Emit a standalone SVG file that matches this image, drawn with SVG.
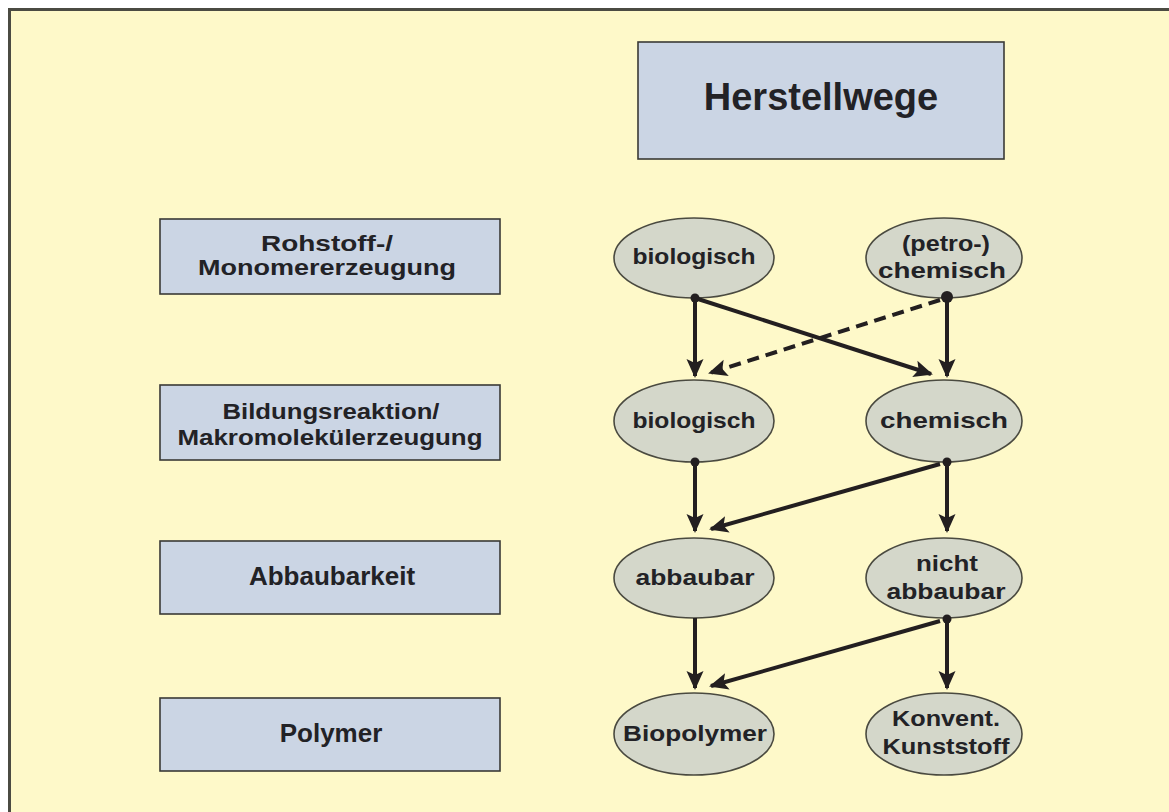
<svg xmlns="http://www.w3.org/2000/svg" width="1169" height="812" viewBox="0 0 1169 812">
<style>
.box{fill:#cbd5e4;stroke:#3a3a36;stroke-width:1.6}
.ell{fill:#d4d7ca;stroke:#4a4a40;stroke-width:1.6}
text{font-family:"Liberation Sans",Arial,sans-serif;font-weight:bold;fill:#222226;text-anchor:middle}
.lbl{font-size:22px}
.big{font-size:26px}
.en{font-size:22px}
.c{stroke:#231f20;stroke-width:4;fill:none}
.d{stroke-dasharray:12 7}
</style>
<defs>
<marker id="ah" markerUnits="userSpaceOnUse" markerWidth="19" markerHeight="19" viewBox="0 0 19 19" refX="17" refY="9.5" orient="auto">
<path d="M0,1 L19,9.5 L0,18 L4,9.5 Z" fill="#231f20"/>
</marker>
</defs>
<rect x="0" y="0" width="1169" height="812" fill="#ffffff"/>
<rect x="9.5" y="9.5" width="1170" height="820" fill="#fef9c9" stroke="#4b4b42" stroke-width="3"/>

<g id="title"><rect class="box" x="638" y="42" width="366" height="117"/><text x="821" y="110" style="font-size:38px">Herstellwege</text></g>

<g id="row-rohstoff"><rect class="box" x="160" y="219" width="340" height="75"/><text class="lbl" x="327" y="251" textLength="132" lengthAdjust="spacingAndGlyphs">Rohstoff-/</text><text class="lbl" x="327" y="275" textLength="258" lengthAdjust="spacingAndGlyphs">Monomererzeugung</text></g>
<g id="row-bildung"><rect class="box" x="160" y="385" width="340" height="75"/><text class="lbl" x="331" y="419" textLength="217" lengthAdjust="spacingAndGlyphs">Bildungsreaktion/</text><text class="lbl" x="330" y="445" textLength="305" lengthAdjust="spacingAndGlyphs">Makromolekülerzeugung</text></g>
<g id="row-abbau"><rect class="box" x="160" y="541" width="340" height="73"/><text class="big" x="332" y="585">Abbaubarkeit</text></g>
<g id="row-polymer"><rect class="box" x="160" y="698" width="340" height="73"/><text class="big" x="331" y="742">Polymer</text></g>

<g id="n-bio1"><ellipse class="ell" cx="694" cy="258" rx="80" ry="40"/><text class="en" x="694" y="264" textLength="123" lengthAdjust="spacingAndGlyphs">biologisch</text></g>
<g id="n-petro"><ellipse class="ell" cx="944" cy="258" rx="78" ry="40"/><text class="en" x="946" y="251" textLength="88" lengthAdjust="spacingAndGlyphs">(petro-)</text><text class="en" x="942" y="278" textLength="128" lengthAdjust="spacingAndGlyphs">chemisch</text></g>
<g id="n-bio2"><ellipse class="ell" cx="694" cy="421" rx="80" ry="41"/><text class="en" x="694" y="428" textLength="123" lengthAdjust="spacingAndGlyphs">biologisch</text></g>
<g id="n-chem"><ellipse class="ell" cx="944" cy="421" rx="78" ry="41"/><text class="en" x="944" y="428" textLength="128" lengthAdjust="spacingAndGlyphs">chemisch</text></g>
<g id="n-abbau"><ellipse class="ell" cx="694" cy="578" rx="80" ry="40"/><text class="en" x="695" y="585" textLength="119" lengthAdjust="spacingAndGlyphs">abbaubar</text></g>
<g id="n-nicht"><ellipse class="ell" cx="944" cy="578" rx="78" ry="40"/><text class="en" x="947" y="571" textLength="62" lengthAdjust="spacingAndGlyphs">nicht</text><text class="en" x="946" y="599" textLength="119" lengthAdjust="spacingAndGlyphs">abbaubar</text></g>
<g id="n-biopoly"><ellipse class="ell" cx="694" cy="734" rx="80" ry="41"/><text class="en" x="695" y="741" textLength="144" lengthAdjust="spacingAndGlyphs">Biopolymer</text></g>
<g id="n-konv"><ellipse class="ell" cx="944" cy="734" rx="78" ry="41"/><text class="en" x="946" y="726" textLength="108" lengthAdjust="spacingAndGlyphs">Konvent.</text><text class="en" x="946" y="754" textLength="127" lengthAdjust="spacingAndGlyphs">Kunststoff</text></g>

<g id="connectors">
<line class="c" x1="695" y1="298" x2="695" y2="376" marker-end="url(#ah)"/>
<line class="c" x1="698" y1="299" x2="931" y2="374" marker-end="url(#ah)"/>
<line class="c" x1="947" y1="298" x2="947" y2="376" marker-end="url(#ah)"/>
<line class="c d" x1="940" y1="300" x2="710" y2="373" marker-end="url(#ah)"/>
<circle cx="695" cy="298" r="4.5" fill="#231f20"/>
<circle cx="947" cy="297" r="6" fill="#231f20"/>

<line class="c" x1="695" y1="462" x2="695" y2="531" marker-end="url(#ah)"/>
<line class="c" x1="947" y1="462" x2="947" y2="531" marker-end="url(#ah)"/>
<line class="c" x1="940" y1="464" x2="711" y2="529" marker-end="url(#ah)"/>
<circle cx="695" cy="462" r="4.5" fill="#231f20"/>
<circle cx="947" cy="462" r="4.5" fill="#231f20"/>

<line class="c" x1="695" y1="618" x2="695" y2="688" marker-end="url(#ah)"/>
<line class="c" x1="947" y1="619" x2="947" y2="688" marker-end="url(#ah)"/>
<line class="c" x1="940" y1="621" x2="711" y2="686" marker-end="url(#ah)"/>
<circle cx="947" cy="619" r="4.5" fill="#231f20"/>
</g>
</svg>
